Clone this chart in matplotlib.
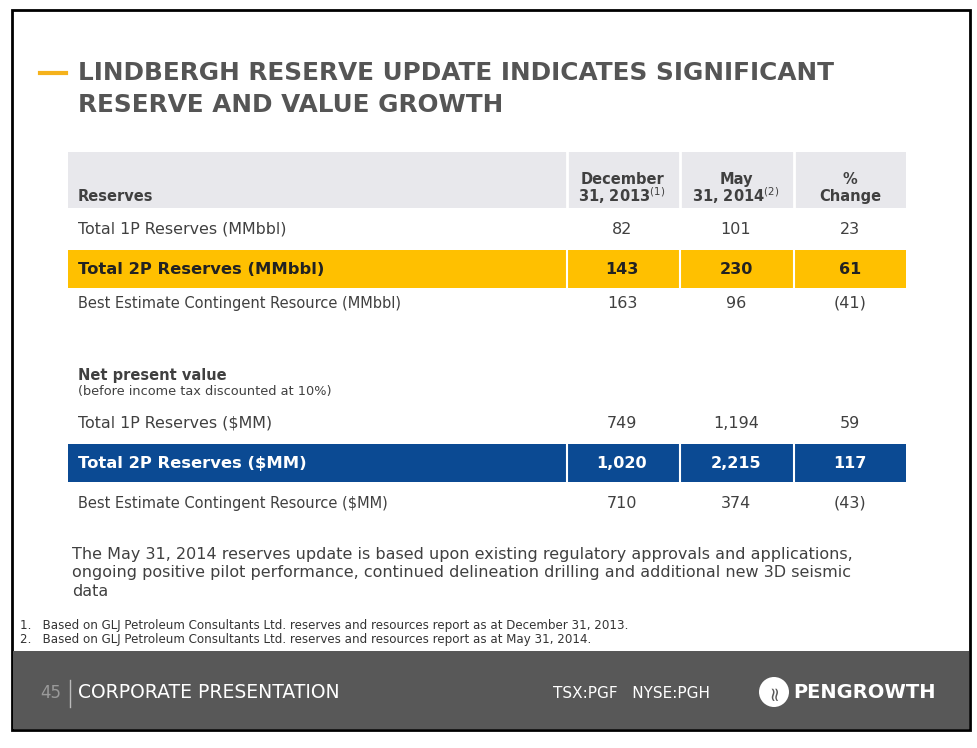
import matplotlib.pyplot as plt
from matplotlib.patches import Rectangle

plt.rcParams['font.family'] = ['DejaVu Sans']

row_labels = ["Total 1P Reserves (MMbbl)", "Total 2P Reserves (MMbbl)",
              "Best Estimate Contingent Resource (MMbbl)",
              "Total 1P Reserves ($MM)", "Total 2P Reserves ($MM)",
              "Best Estimate Contingent Resource ($MM)"]
dec_2013 = ["82", "143", "163", "749", "1,020", "710"]
may_2014 = ["101", "230", "96", "1,194", "2,215", "374"]
pct_change = ["23", "61", "(41)", "59", "117", "(43)"]
row_y = [229, 269, 303, 423, 463, 503]
row_style = ["plain", "gold", "plain", "plain", "blue", "plain"]

GOLD = "#FFC000"
BLUE = "#0B4A93"
GREY = "#404040"

fig = plt.figure(figsize=(9.78, 7.48), dpi=100)
ax = fig.add_axes([0, 0, 1, 1])
ax.set_xlim(0, 978)
ax.set_ylim(748, 0)
ax.axis("off")

# slide frame and footer
ax.add_patch(Rectangle((12, 10), 958, 720, fc="white", ec="black", lw=2))
ax.add_patch(Rectangle((13, 651), 956, 78, fc="#585858", ec="none"))

# title
ax.plot([40, 66], [73, 73], color="#F5B21B", lw=3)
for y, t in [(73, "LINDBERGH RESERVE UPDATE INDICATES SIGNIFICANT"), (105, "RESERVE AND VALUE GROWTH")]:
    ax.text(78, y, t, fontsize=17.8, fontweight="bold", color="#555555", va="center")

# table header
col_x = [622, 736, 850]
ax.add_patch(Rectangle((68, 152), 838, 56, fc="#E8E8EC", ec="none"))
for x in [567, 680, 794]:
    ax.plot([x, x], [152, 208], color="white", lw=2)
ax.text(78, 196, "Reserves", fontsize=10.5, fontweight="bold", color=GREY, va="center")
hdr = [("December", "31, 2013$^{(1)}$"), ("May", "31, 2014$^{(2)}$"), ("%", "Change")]
for x, (a, b) in zip(col_x, hdr):
    ax.text(x, 179, a, fontsize=10.5, fontweight="bold", color=GREY, ha="center", va="center")
    ax.text(x, 196, b, fontsize=10.5, fontweight="bold", color=GREY, ha="center", va="center")

# rows
for lab, a, b, c, y, st in zip(row_labels, dec_2013, may_2014, pct_change, row_y, row_style):
    color, weight = GREY, "normal"
    if st != "plain":
        fc = GOLD if st == "gold" else BLUE
        ax.add_patch(Rectangle((68, y - 19), 838, 38, fc=fc, ec="none"))
        for x in [567, 680, 794]:
            ax.plot([x, x], [y - 19, y + 19], color="white", lw=1.5)
        weight = "bold"
        color = "#222222" if st == "gold" else "white"
    fs = 11.8 if st != "plain" else (11.4 if "Contingent" not in lab else 10.5)
    ax.text(78, y, lab, fontsize=fs, fontweight=weight, color=color, va="center")
    for x, v in zip(col_x, [a, b, c]):
        ax.text(x, y, v, fontsize=11.5, fontweight=weight, color=color, ha="center", va="center")

ax.text(78, 375, "Net present value", fontsize=10.5, fontweight="bold", color=GREY, va="center")
ax.text(78, 391, "(before income tax discounted at 10%)", fontsize=9.3, color=GREY, va="center")

# paragraph
para = ["The May 31, 2014 reserves update is based upon existing regulatory approvals and applications,",
        "ongoing positive pilot performance, continued delineation drilling and additional new 3D seismic",
        "data"]
for i, line in enumerate(para):
    ax.text(72, 554 + i * 19, line, fontsize=11.5, color=GREY, va="center")

notes = ["1.   Based on GLJ Petroleum Consultants Ltd. reserves and resources report as at December 31, 2013.",
         "2.   Based on GLJ Petroleum Consultants Ltd. reserves and resources report as at May 31, 2014."]
for i, line in enumerate(notes):
    ax.text(20, 625 + i * 15, line, fontsize=8.6, color="#333333", va="center")

# footer
ax.text(40, 693, "45", fontsize=12, color="#9A9A9A", va="center")
ax.plot([70, 70], [680, 707], color="#BBBBBB", lw=1)
ax.text(78, 693, "CORPORATE PRESENTATION", fontsize=13.5, color="white", va="center")
ax.text(553, 693, "TSX:PGF   NYSE:PGH", fontsize=11, color="white", va="center")
ax.add_patch(plt.Circle((774, 692), 15, fc="white", ec="none"))
ax.text(774, 692, "\u2248", fontsize=14, color="#585858", ha="center", va="center", rotation=90)
ax.text(793, 692, "PENGROWTH", fontsize=14, fontweight="bold", color="white", va="center")

fig.savefig("out.png", dpi=100)
